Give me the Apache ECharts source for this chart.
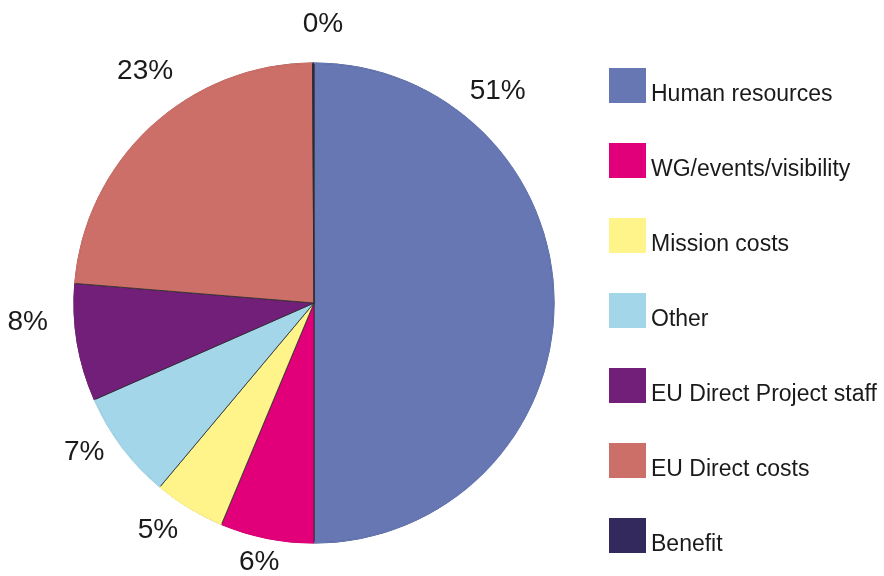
<!DOCTYPE html>
<html>
<head>
<meta charset="utf-8">
<script src="https://cdn.jsdelivr.net/npm/echarts@6/dist/echarts.min.js"></script>
<style>
  html, body { margin: 0; padding: 0; background: #fff; }
  #chart { width: 884px; height: 576px; }
</style>
</head>
<body>
<div id="chart"></div>
<script>
// categories and shares
const categories = ['Human resources', 'WG/events/visibility', 'Mission costs', 'Other',
  'EU Direct Project staff', 'EU Direct costs', 'Benefit'];
const shares = [50.0, 6.3, 4.8, 7.3, 7.9, 23.6, 0.1];
const percentLabels = ['51%', '6%', '5%', '7%', '8%', '23%', '0%'];
const colors = ['#6677b3', '#e2007a', '#fff48a', '#a4d6ea', '#721f7a', '#cc6f68', '#33295c'];

// label placement around the pie (angle nudge from mid-angle in degrees, distance in px)
const labelNudge = [-49, 0.6, 3.1, 3.9, 5.7, 6.8, 2];
const labelDist = [280, 265, 276, 274, 287, 287, 279];

const cx = 314, cy = 303, radius = 240;
const total = shares.reduce((a, b) => a + b, 0);

const chart = echarts.init(document.getElementById('chart'));

// posição do rótulo a partir do ângulo médio da fatia
const placeLabel = (p) => {
  const i = p.dataIndex;
  let cum = 0;
  for (let k = 0; k < i; k++) cum += shares[k];
  const ang = ((cum + shares[i] / 2) / total * 360 + labelNudge[i]) * Math.PI / 180;
  return {
    x: cx + labelDist[i] * Math.sin(ang),
    y: cy - labelDist[i] * Math.cos(ang),
    align: 'center',
    verticalAlign: 'middle',
  };
};

const pieData = categories.map((name, i) => ({ name, value: shares[i] }));

chart.setOption({
  animation: false,
  color: colors,
  legend: {
    orient: 'vertical',
    left: 609,
    top: 68,
    padding: 0,
    itemWidth: 37,
    itemHeight: 35,
    itemGap: 36.5,
    icon: 'rect',
    selectedMode: false,
    data: categories,
    itemStyle: { borderWidth: 0 },
    formatter: (name) => '{t|' + name + '}',
    textStyle: {
      fontFamily: '"Liberation Sans", sans-serif',
      fontSize: 23,
      color: '#1a1a1a',
      rich: {
        t: {
          fontFamily: '"Liberation Sans", sans-serif',
          fontSize: 23,
          color: '#1a1a1a',
          padding: [19, 0, 0, 0],
        },
      },
    },
  },
  series: [{
    type: 'pie',
    center: [cx, cy],
    radius: radius,
    startAngle: 90,
    clockwise: true,
    avoidLabelOverlap: false,
    itemStyle: { borderColor: '#2a2a2a', borderWidth: 0.8 },
    emphasis: { disabled: true },
    label: {
      show: true,
      position: 'outside',
      formatter: (p) => percentLabels[p.dataIndex],
      fontFamily: '"Liberation Sans", sans-serif',
      fontSize: 28,
      color: '#1a1a1a',
    },
    labelLine: { show: false },
    labelLayout: placeLabel,
    data: pieData,
  }, {
    // thin ring over the rim so the outer edge has no dark stroke
    type: 'pie',
    center: [cx, cy],
    radius: [radius - 1, radius + 0.6],
    startAngle: 90,
    clockwise: true,
    silent: true,
    label: { show: false },
    labelLine: { show: false },
    itemStyle: { borderWidth: 0 },
    data: pieData,
  }],
});
</script>
</body>
</html>
